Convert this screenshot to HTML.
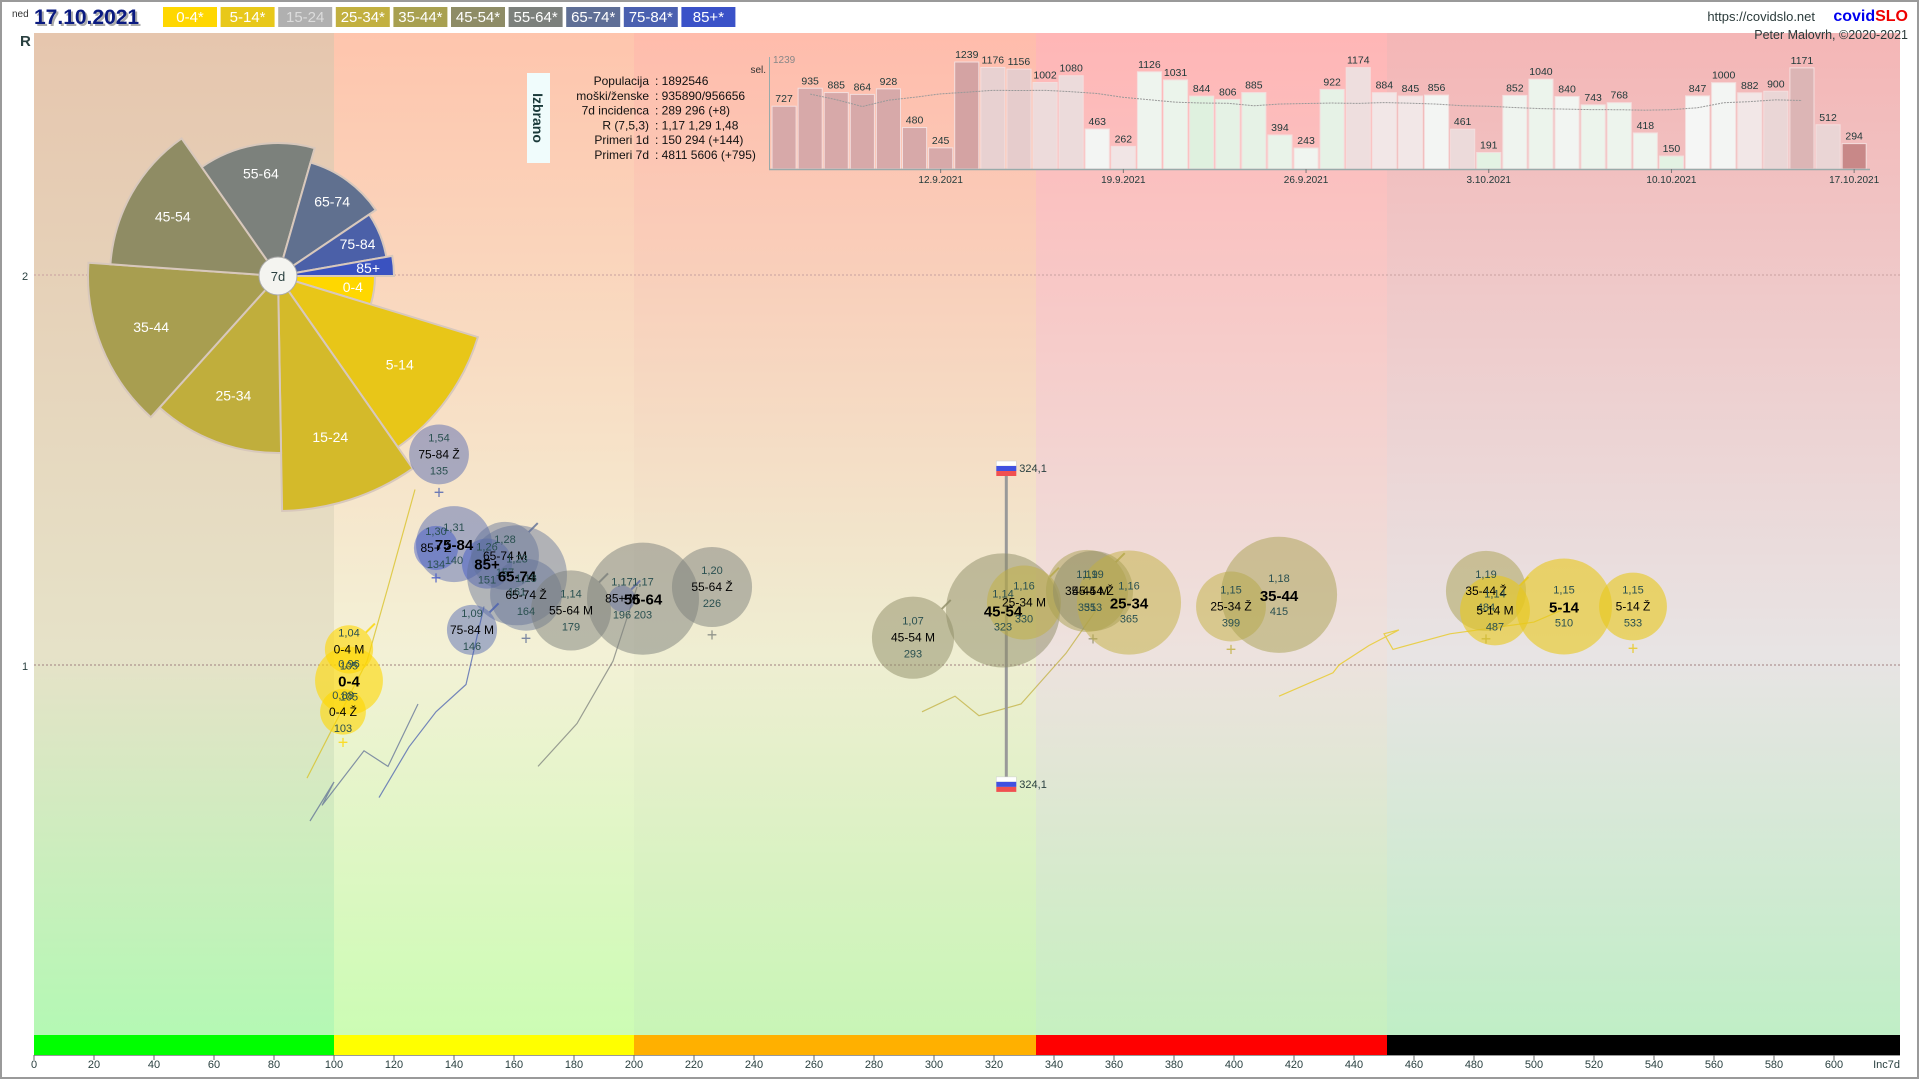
<!DOCTYPE html>
<html><head><meta charset="utf-8"><style>
html,body{margin:0;padding:0;background:#fff;}
body{width:1920px;height:1080px;overflow:hidden;font-family:"Liberation Sans",sans-serif;}
svg text{font-family:"Liberation Sans",sans-serif;}
</style></head>
<body>
<svg id="chart" width="1920" height="1080" viewBox="0 0 1920 1080" xmlns="http://www.w3.org/2000/svg">
<defs>
<linearGradient id="z1" x1="0" y1="0" x2="0" y2="1"><stop offset="0" stop-color="#e6c6ae"/><stop offset="0.62" stop-color="#e6e2c8"/><stop offset="1" stop-color="#b4f8b4"/></linearGradient>
<linearGradient id="z2" x1="0" y1="0" x2="0" y2="1"><stop offset="0" stop-color="#fec5ad"/><stop offset="0.62" stop-color="#f3f1d6"/><stop offset="1" stop-color="#ccfcb4"/></linearGradient>
<linearGradient id="z3" x1="0" y1="0" x2="0" y2="1"><stop offset="0" stop-color="#ffbcac"/><stop offset="0.62" stop-color="#efeed2"/><stop offset="1" stop-color="#c8f5b6"/></linearGradient>
<linearGradient id="z4" x1="0" y1="0" x2="0" y2="1"><stop offset="0" stop-color="#ffb6b6"/><stop offset="0.62" stop-color="#ede2de"/><stop offset="1" stop-color="#c6f0c0"/></linearGradient>
<linearGradient id="z5" x1="0" y1="0" x2="0" y2="1"><stop offset="0" stop-color="#f4b6b6"/><stop offset="0.62" stop-color="#e8e4e4"/><stop offset="1" stop-color="#c0eec6"/></linearGradient>
</defs>
<rect x="0" y="0" width="1920" height="1080" fill="#fff"/>
<rect x="1" y="1" width="1917" height="1077" fill="none" stroke="#9a9a9a" stroke-width="2"/>
<g id="zones"></g>
<g id="grid"></g>
<g id="pie"></g>
<g id="trails"></g>
<g id="slo"></g>
<g id="bubbles"></g>
<g id="inset"></g>
<g id="xaxis"></g>
<g id="header">
 <text x="12" y="17" font-size="10" fill="#333">ned</text>
 <text x="36" y="26" font-size="21" font-weight="bold" fill="#aaa">17.10.2021</text>
 <text x="34" y="24" font-size="21" font-weight="bold" fill="#0a1a80">17.10.2021</text>
 <text x="1815" y="21" font-size="13" fill="#2a3a3a" text-anchor="end">https://covidslo.net</text>
 <text x="1908" y="21" font-size="16" font-weight="bold" text-anchor="end"><tspan fill="#0000ee">covid</tspan><tspan fill="#ee0000">SLO</tspan></text>
 <text x="1908" y="39" font-size="12.5" fill="#2a3a3a" text-anchor="end">Peter Malovrh, ©2020-2021</text>
 <text x="20" y="46" font-size="15" font-weight="bold" fill="#2a4040">R</text>
 <text x="22" y="280" font-size="11" fill="#2a4040">2</text>
 <text x="22" y="670" font-size="11" fill="#2a4040">1</text>
</g>
<g id="legend"></g>
</svg>
<script>
// ---- data ----
const ageGroups = ["0-4","5-14","15-24","25-34","35-44","45-54","55-64","65-74","75-84","85+"];
const ageColors = ["#ffd700","#e8c81a","#b0b0b0","#c2b040","#a8a050","#8e8c66","#7c807c","#5f6f96","#4a60b0","#3a52c8"];
const legendLabels = ["0-4*","5-14*","15-24","25-34*","35-44*","45-54*","55-64*","65-74*","75-84*","85+*"];
const pieShare = [17,38,34,43,52,51,51,40,24,10];
const pieRadius = [97,209,235,177,190,168,133,118,110,116];
const pieColors = ["#ffd700","#e8c618","#d4ba2a","#c0ae3c","#a89e50","#8f8c64","#7c817c","#60708f","#4b60a8","#3a52c0"];

const bubbleLabels = ["75-84 Ž","75-84","85+ Ž","85+","65-74 M","65-74","65-74 Ž","75-84 M","55-64 M","85+ M","55-64","55-64 Ž","0-4 M","0-4","0-4 Ž","45-54 M","45-54","25-34 M","35-44 M","45-54 Ž","25-34","25-34 Ž","35-44","35-44 Ž","5-14 M","5-14","5-14 Ž"];
const bubbleAge = [8,8,9,9,7,7,7,8,6,9,6,6,0,0,0,5,5,3,4,5,3,3,4,4,1,1,1];
const bubbleR = [1.54,1.31,1.30,1.26,1.28,1.23,1.18,1.09,1.14,1.17,1.17,1.20,1.04,0.96,0.88,1.07,1.14,1.16,1.19,1.19,1.16,1.15,1.18,1.19,1.14,1.15,1.15];
const bubbleInc = [135,140,134,151,157,161,164,146,179,196,203,226,105,105,103,293,323,330,351,353,365,399,415,484,487,510,533];
const bubblePop = [77,124,42,54,99,215,111,54,138,15,270,138,50,99,45,145,280,118,145,138,233,105,290,138,105,198,99];
const bubbleIsTotal = [0,1,0,1,0,1,0,0,0,0,1,0,0,1,0,0,1,0,0,0,1,0,1,0,0,1,0];

const trailInc = [[91,105,111,118,127],[115,125,134,144,150],[168,181,193,201],[296,307,315,329,344,354],[415,433,435,445,455,450,453,472,500,509],[92,100,96,110,118,128]];
const trailR = [[0.71,0.92,1.01,1.20,1.45],[0.66,0.79,0.88,0.95,1.15],[0.74,0.85,1.01,1.20],[0.88,0.92,0.87,0.90,1.03,1.14],[0.92,0.98,1.00,1.05,1.09,1.08,1.04,1.08,1.11,1.14],[0.60,0.70,0.64,0.78,0.74,0.90]];
const trailAge = [2,8,6,3,1,7];

const sloInc = 324.1;
const sloRTop = 1.50;
const sloRBottom = 0.69;

const zoneEdges = [0,100,200,334,451,622];
const zoneBandColors = ["#00ff00","#ffff00","#ffb000","#ff0000","#000000"];
const xTicks = [0,20,40,60,80,100,120,140,160,180,200,220,240,260,280,300,320,340,360,380,400,420,440,460,480,500,520,540,560,580,600];

const dailyCases = [727,935,885,864,928,480,245,1239,1176,1156,1002,1080,463,262,1126,1031,844,806,885,394,243,922,1174,884,845,856,461,191,852,1040,840,743,768,418,150,847,1000,882,900,1171,512,294];
const dateTicks = ["12.9.2021","19.9.2021","26.9.2021","3.10.2021","10.10.2021","17.10.2021"];
const dateTickIdx = [6,13,20,27,34,41];
const infoLabels = ["Populacija","moški/ženske","7d incidenca","R (7,5,3)","Primeri 1d","Primeri 7d"];
const infoValues = ["1892546","935890/956656","289 296 (+8)","1,17 1,29 1,48","150 294 (+144)","4811 5606 (+795)"];

// ---- scales ----
const xs = v => 34 + v * 3;
const ys = r => 665 - (r - 1) * 390;
const NS = "http://www.w3.org/2000/svg";
function mk(tag, attrs, parent){const e=document.createElementNS(NS,tag);for(const k in attrs)e.setAttribute(k,attrs[k]);if(parent)parent.appendChild(e);return e;}
const fmt = v => String(v).replace('.',',');

// zones
const gZ = document.getElementById('zones');
for(let i=0;i<5;i++){
  const x0=xs(zoneEdges[i]), x1=Math.min(xs(zoneEdges[i+1]),1900);
  const r = mk('rect',{x:x0,y:33,width:x1-x0,height:1002,fill:'url(#z'+(i+1)+')'},gZ);
  
  
  const b = mk('rect',{x:x0,y:1035,width:x1-x0,height:20,fill:zoneBandColors[i]},gZ);
  
  
}
// grid
const gG=document.getElementById('grid');
[1,2].forEach(r=>{
  const l=mk('line',{x1:34,x2:1900,y1:ys(r),y2:ys(r),stroke:r===1?'#a08080':'#c8a0a0','stroke-width':1,'stroke-dasharray':'2,2'},gG);
  
  
});
// x axis
const gX=document.getElementById('xaxis');
const ax=mk('line',{x1:34,x2:1900,y1:1055.5,y2:1055.5,stroke:'#999','stroke-width':1},gX);


xTicks.forEach(t=>{
  const tk=mk('line',{x1:xs(t),x2:xs(t),y1:1055,y2:1060,stroke:'#666'},gX);
  
  
  const tx=mk('text',{x:xs(t),y:1068,'font-size':11,'text-anchor':'middle',fill:'#2a4040'},gX);
  tx.textContent=t;
  
  
});
const xt=mk('text',{x:1900,y:1068,'font-size':11,'text-anchor':'end',fill:'#2a4040'},gX);
xt.textContent='Inc7d';



// pie
const gP=document.getElementById('pie');
const pcx=278, pcy=276;
const tot=pieShare.reduce((a,b)=>a+b,0);
let a0=0;
pieShare.forEach((s,i)=>{
  const a1=a0+s/tot*2*Math.PI, r=pieRadius[i];
  const p=`M${pcx},${pcy} L${pcx+r*Math.cos(a0)},${pcy+r*Math.sin(a0)} A${r},${r} 0 ${a1-a0>Math.PI?1:0} 1 ${pcx+r*Math.cos(a1)},${pcy+r*Math.sin(a1)} Z`;
  const sl=mk('path',{d:p,fill:pieColors[i],stroke:'#d8c8bc','stroke-width':2},gP);
  
  
  const am=(a0+a1)/2, lr=r>150? r*0.72 : r*0.78;
  const t=mk('text',{x:pcx+lr*Math.cos(am),y:pcy+lr*Math.sin(am)+5,'font-size':14,'text-anchor':'middle',fill:'#fff'},gP);
  t.textContent=ageGroups[i];
  
  
  a0=a1;
});
const pc=mk('circle',{cx:pcx,cy:pcy,r:19,fill:'#f4f4f0',stroke:'#aaa','stroke-width':1},gP);


const pct=mk('text',{x:pcx,y:pcy+5,'font-size':13,'text-anchor':'middle',fill:'#2a4040'},gP);
pct.textContent='7d';



// trails
const gT=document.getElementById('trails');
trailInc.forEach((arr,k)=>{
  const pts=arr.map((v,j)=>xs(v)+','+ys(trailR[k][j])).join(' ');
  const pl=mk('polyline',{points:pts,fill:'none',stroke:ageColors[trailAge[k]]==='#b0b0b0'?'#d8c020':ageColors[trailAge[k]],'stroke-width':1.2,opacity:0.75},gT);
  
  
});

// Slovenia marker
const gS=document.getElementById('slo');
const sx=xs(sloInc);
const sl=mk('line',{x1:sx,x2:sx,y1:ys(sloRTop),y2:ys(sloRBottom),stroke:'#999','stroke-width':3},gS);


[sloRTop,sloRBottom].forEach((r,k)=>{
  const y=ys(r);
  const f=mk('g',{},gS);
  
  
  mk('rect',{x:sx-10,y:y-9,width:20,height:5,fill:'#fff',stroke:'#ccc','stroke-width':0.5},f);
  mk('rect',{x:sx-10,y:y-4,width:20,height:5,fill:'#4050e0'},f);
  mk('rect',{x:sx-10,y:y+1,width:20,height:5,fill:'#f05050'},f);
  const t=mk('text',{x:sx+13,y:y+2,'font-size':11,fill:'#2a4040'},gS);
  t.textContent=fmt(sloInc);
  
  
});

// bubbles
const gB=document.getElementById('bubbles');
const rOf=p=>3.41*Math.sqrt(p);
bubbleLabels.forEach((lab,i)=>{
  const cx=xs(bubbleInc[i]), cy=ys(bubbleR[i]), r=rOf(bubblePop[i]);
  const col=ageColors[bubbleAge[i]];
  const op = bubbleAge[i]>=7 ? 0.45 : (bubbleAge[i]<=1 ? 0.6 : 0.5);
  const c=mk('circle',{cx:cx,cy:cy,r:r,fill:col,'fill-opacity':op},gB);
  
  
  if(/Ž$/.test(lab)){
    const s=mk('text',{x:cx,y:cy+r+14,'font-size':18,'text-anchor':'middle',fill:col,opacity:0.8},gB);
    s.textContent='+';
    
    
  } else if(/M$/.test(lab)){
    const ex=cx+r*0.7, ey=cy-r*0.7;
    const m=mk('line',{x1:ex,y1:ey,x2:ex+9,y2:ey-9,stroke:col,'stroke-width':2,opacity:0.8},gB);
    
    
  }
});
bubbleLabels.forEach((lab,i)=>{
  const cx=xs(bubbleInc[i]), cy=ys(bubbleR[i]);
  const big=bubbleIsTotal[i]===1;
  const t1=mk('text',{x:cx,y:cy-13,'font-size':11,'text-anchor':'middle',fill:'#2a5050'},gB);
  t1.textContent=fmt(bubbleR[i].toFixed(2));
  
  
  const t2=mk('text',{x:cx,y:cy+(big?6:4),'font-size':big?15:12,'font-weight':big?'bold':'normal','text-anchor':'middle',fill:'#000'},gB);
  t2.textContent=lab;
  
  
  const t3=mk('text',{x:cx,y:cy+20,'font-size':11,'text-anchor':'middle',fill:'#2a5050'},gB);
  t3.textContent=bubbleInc[i];
  
  
});

// inset
const gI=document.getElementById('inset');
const ib=mk('rect',{x:527,y:73,width:23,height:90,fill:'#f0fcfc'},gI);


const it=mk('text',{x:0,y:0,'font-size':14,'font-weight':'bold',fill:'#1a3a3a','text-anchor':'middle',transform:'translate(533,118) rotate(90)'},gI);
it.textContent='Izbrano';


infoLabels.forEach((l,k)=>{
  const y=85+k*14.8;
  const a=mk('text',{x:649,y:y,'font-size':12,'text-anchor':'end',fill:'#111'},gI);
  a.textContent=l;
  
  
  const b=mk('text',{x:655,y:y,'font-size':12,fill:'#111'},gI);
  b.textContent=': '+infoValues[k];
  
  
});
const bx0=771, bpitch=26.1, by0=169, bmax=Math.max(...dailyCases), bh=v=>v/bmax*107;
const bxs=i=>bx0+i*bpitch;
function barColor(i){
  const v=dailyCases[i];
  let t;
  if(i<7){t=0.4;}
  else{
    const r=v/dailyCases[i-7];
    if(r<1){const g=Math.min((1-r)/0.3,1);return `rgb(${Math.round(246-26*g)},${Math.round(246-6*g)},${Math.round(246-26*g)})`;}
    t=Math.min((r-1)/1.6,0.6);
  }
  return `rgb(${Math.round(244-44*t/0.6)},${Math.round(236-100*t/0.6)},${Math.round(236-100*t/0.6)})`;
}
dailyCases.forEach((v,i)=>{
  const r=mk('rect',{x:bxs(i)+1,y:by0-bh(v),width:bpitch-2,height:bh(v),fill:barColor(i),stroke:'#f4dede','stroke-width':1},gI);
  
  
  const t=mk('text',{x:bxs(i)+bpitch/2,y:by0-bh(v)-4,'font-size':10.5,'text-anchor':'middle',fill:'#1f3838'},gI);
  t.textContent=v;
  
  
});
const avgPts=[];
for(let i=1;i<dailyCases.length-2;i++){
  let s=0,n=0;for(let j=i-3;j<=i+3;j++){if(j>=0&&j<dailyCases.length){s+=dailyCases[j];n++;}}
  avgPts.push((bxs(i)+bpitch/2)+','+(by0-bh(s/n)));
}
const al=mk('polyline',{points:avgPts.join(' '),fill:'none',stroke:'#999','stroke-width':1,'stroke-dasharray':'2,1'},gI);


const bax=mk('line',{x1:769,x2:1870,y1:by0+0.5,y2:by0+0.5,stroke:'#9aa','stroke-width':1.5},gI);


const bay=mk('line',{x1:769.5,x2:769.5,y1:57,y2:170,stroke:'#9aa','stroke-width':1},gI);


const mx=mk('text',{x:773,y:63,'font-size':10,fill:'#888'},gI);
mx.textContent=bmax;


const sel=mk('text',{x:766,y:73,'font-size':10,'text-anchor':'end',fill:'#333'},gI);
sel.textContent='sel.';


dateTicks.forEach((d,k)=>{
  const x=bxs(dateTickIdx[k])+bpitch/2;
  const tk=mk('line',{x1:x,x2:x,y1:by0,y2:by0+4,stroke:'#777'},gI);
  
  
  const t=mk('text',{x:x,y:by0+14,'font-size':10,'text-anchor':'middle',fill:'#1f3838'},gI);
  t.textContent=d;
  
  
});

// legend
const gL=document.getElementById('legend');
legendLabels.forEach((l,i)=>{
  const x=163+i*57.6;
  const r=mk('rect',{x:x,y:7,width:54,height:20,fill:ageColors[i]},gL);
  
  
  const t=mk('text',{x:x+27,y:22,'font-size':15,'text-anchor':'middle',fill:i===2?'#dcdcdc':'#fff'},gL);
  t.textContent=l;
  
  
});
</script>
</body></html>
